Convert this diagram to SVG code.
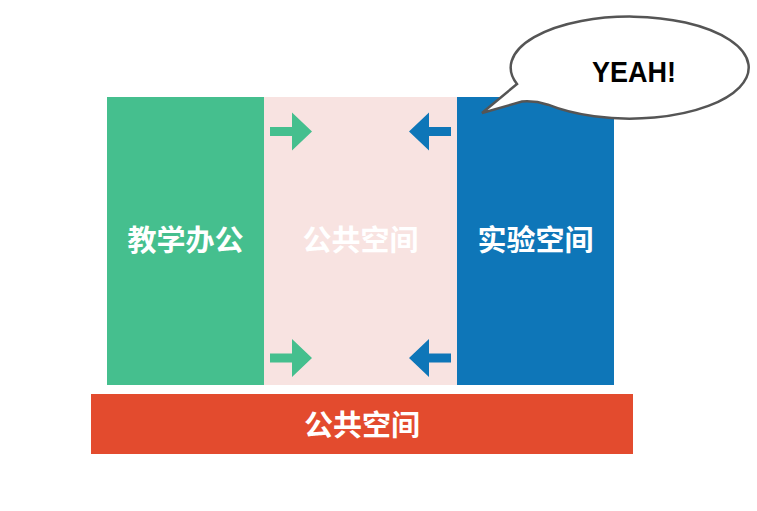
<svg xmlns="http://www.w3.org/2000/svg" width="757" height="511" viewBox="0 0 757 511">
<style>
.lbl{font-family:"Noto Sans CJK SC","Noto Sans",sans-serif;font-weight:bold;font-size:29px;fill:#ffffff;text-anchor:middle}
.g{fill:#45BF8E}
.b{fill:#0E76B8}
</style>
<defs>
<polygon id="arR" points="0,-4.5 22,-4.5 22,-19 42,0 22,19 22,4.5 0,4.5"/>
<polygon id="arL" points="0,-4.5 -22,-4.5 -22,-19 -42,0 -22,19 -22,4.5 0,4.5"/>
</defs>
<rect width="757" height="511" fill="#ffffff"/>
<g id="teaching">
<rect x="107" y="97" width="157" height="288" fill="#45BF8E"/>
<text class="lbl" x="185.5" y="251">教学办公</text>
</g>
<g id="public-middle">
<rect x="264" y="97" width="193" height="288" fill="#F8E3E1"/>
<text class="lbl" x="360.5" y="251">公共空间</text>
</g>
<g id="lab">
<rect x="457" y="97" width="157" height="288" fill="#0E76B8"/>
<text class="lbl" x="535.5" y="251">实验空间</text>
</g>
<g id="public-bottom">
<rect x="91" y="394" width="542" height="60" fill="#E34B2E"/>
<text class="lbl" x="362" y="436">公共空间</text>
</g>
<g id="connectors">
<use href="#arR" class="g" x="270" y="131.5"/>
<use href="#arR" class="g" x="270" y="358"/>
<use href="#arL" class="b" x="451" y="131.5"/>
<use href="#arL" class="b" x="451" y="358"/>
</g>
<g id="bubble">
<path d="M517,84 A119,51 0 1 1 548,104.7 Q535,100.5 522,101.5 L482,113 Z" fill="#ffffff" stroke="#555555" stroke-width="2.5" stroke-linejoin="miter"/>
<text x="634" y="82" font-family="Liberation Sans,Arial,sans-serif" font-weight="bold" font-size="29" fill="#000000" text-anchor="middle" textLength="84" lengthAdjust="spacingAndGlyphs">YEAH!</text>
</g>
</svg>
